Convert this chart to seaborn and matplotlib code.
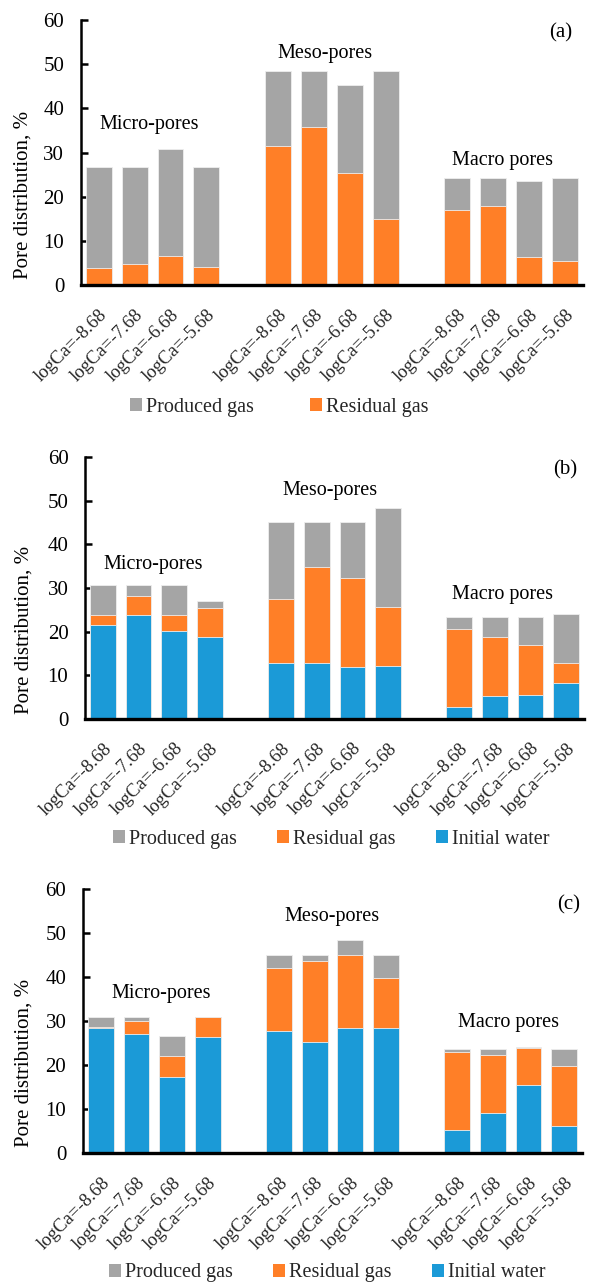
import numpy as np
import pandas as pd
import matplotlib
matplotlib.use("Agg")
import matplotlib.pyplot as plt
from matplotlib.patches import Patch
import seaborn as sns

# ---------------- data ----------------
conditions = ["logCa=-8.68", "logCa=-7.68", "logCa=-6.68", "logCa=-5.68"]
groups = ["Micro-pores", "Meso-pores", "Macro pores"]

# panel (a): segments per bar (micro x4, meso x4, macro x4)
a_residual = [3.9, 4.9, 6.7, 4.1, 31.5, 35.8, 25.5, 14.9, 17.1, 18.0, 6.4, 5.4]
a_produced = [22.9, 21.9, 24.2, 22.7, 17.0, 12.7, 19.8, 33.6, 7.1, 6.2, 17.3, 18.8]

# panel (b)
b_water = [21.5, 23.7, 20.2, 18.7, 12.7, 12.7, 11.8, 12.1, 2.7, 5.2, 5.4, 8.2]
b_residual = [2.2, 4.4, 3.5, 6.6, 14.8, 22.1, 20.4, 13.5, 17.9, 13.5, 11.5, 4.5]
b_produced = [7.0, 2.6, 7.0, 1.6, 17.6, 10.3, 12.9, 22.6, 2.8, 4.7, 6.5, 11.3]

# panel (c)
c_water = [28.3, 27.0, 17.2, 26.4, 27.7, 25.2, 28.3, 28.3, 5.2, 9.1, 15.4, 6.2]
c_residual = [0.3, 2.9, 4.8, 4.4, 14.3, 18.4, 16.8, 11.4, 17.8, 13.2, 8.4, 13.5]
c_produced = [2.2, 0.9, 4.7, 0.1, 3.1, 1.5, 3.2, 5.4, 0.6, 1.3, 0.4, 3.9]

series_names = ["Produced gas", "Residual gas", "Initial water"]
colors = {"Produced gas": "#A5A5A5", "Residual gas": "#FF7F27", "Initial water": "#1B9AD7"}

# ---------------- style ----------------
sns.set_theme(style="ticks")
plt.rcParams["font.family"] = ["Liberation Serif", "DejaVu Serif"]
plt.rcParams["axes.linewidth"] = 1.8

fig = plt.figure(figsize=(5.99, 12.85), dpi=100)

positions = [g * 5 + i for g in range(len(groups)) for i in range(len(conditions))]
tick_labels = [c for _ in groups for c in conditions]

panels = [
    dict(rect=[0.135, 0.778, 0.838, 0.2064], segs={"Initial water": None, "Residual gas": a_residual, "Produced gas": a_produced},
         label="(a)", lab_xy=(0.956, 0.95), ylab_xy=(-0.096, 0.34),
         ann=[(1.4, 34.3), (6.3, 50.2), (11.27, 26.0)],
         legend_y=0.683, legend_x=0.466, colsp=2.8, names=["Produced gas", "Residual gas"]),
    dict(rect=[0.142, 0.4405, 0.833, 0.2039], segs={"Initial water": b_water, "Residual gas": b_residual, "Produced gas": b_produced},
         label="(b)", lab_xy=(0.962, 0.95), ylab_xy=(-0.104, 0.34),
         ann=[(1.4, 33.2), (6.37, 50.2), (11.2, 26.3)],
         legend_y=0.347, legend_x=0.553, colsp=2.0, names=series_names),
    dict(rect=[0.1386, 0.1027, 0.833, 0.2055], segs={"Initial water": c_water, "Residual gas": c_residual, "Produced gas": c_produced},
         label="(c)", lab_xy=(0.974, 0.94), ylab_xy=(-0.1, 0.34),
         ann=[(1.7, 34.2), (6.48, 51.5), (11.43, 27.4)],
         legend_y=0.0095, legend_x=0.546, colsp=2.0, names=series_names),
]

for p in panels:
    ax = fig.add_axes(p["rect"])
    segs = p["segs"]
    # cumulative tops, stacking order bottom->top: water, residual, produced
    order = ["Initial water", "Residual gas", "Produced gas"]
    cum = np.zeros(len(positions))
    tops = {}
    for name in order:
        if segs[name] is None:
            continue
        cum = cum + np.array(segs[name])
        tops[name] = cum.copy()
    # draw tallest first so lower segments overlay
    for name in reversed(order):
        if name not in tops:
            continue
        df = pd.DataFrame({"pos": positions, "val": tops[name]})
        sns.barplot(data=df, x="pos", y="val", native_scale=True, orient="x",
                    color=colors[name], saturation=1, width=0.72,
                    edgecolor="#EEEEEE", linewidth=0.6, ax=ax, errorbar=None)
    ax.set_xlim(-0.5, 13.5)
    ax.set_ylim(0, 60)
    ax.set_yticks(range(0, 61, 10))
    ax.set_xticks(positions)
    ax.set_xticklabels(tick_labels, rotation=45, ha="right", rotation_mode="anchor", fontsize=13.5)
    ax.tick_params(axis="y", direction="in", length=5, width=1.8, labelsize=15, pad=12, colors="black")
    ax.tick_params(axis="x", length=0, pad=15)
    ax.set_xlabel("")
    ax.set_ylabel("Pore distribution, %", fontsize=15, color="black")
    ax.yaxis.set_label_coords(*p["ylab_xy"])
    sns.despine(ax=ax)
    ax.spines["left"].set_color("black")
    ax.spines["bottom"].set_color("black")
    ax.spines["bottom"].set_linewidth(2.4)
    for (x, y), g in zip(p["ann"], groups):
        ax.text(x, y, g, ha="center", va="bottom", fontsize=14.5, color="black")
    ax.text(p["lab_xy"][0], p["lab_xy"][1], p["label"], transform=ax.transAxes,
            ha="center", va="center", fontsize=15, color="black")
    handles = [Patch(facecolor=colors[n], edgecolor="none") for n in p["names"]]
    fig.legend(handles, p["names"], loc="center", bbox_to_anchor=(p["legend_x"], p["legend_y"]),
               ncol=len(p["names"]), frameon=False, fontsize=14.5, handlelength=0.6, handleheight=0.6,
               handletextpad=0.2, columnspacing=p["colsp"])

fig.savefig("out.png", dpi=100)
